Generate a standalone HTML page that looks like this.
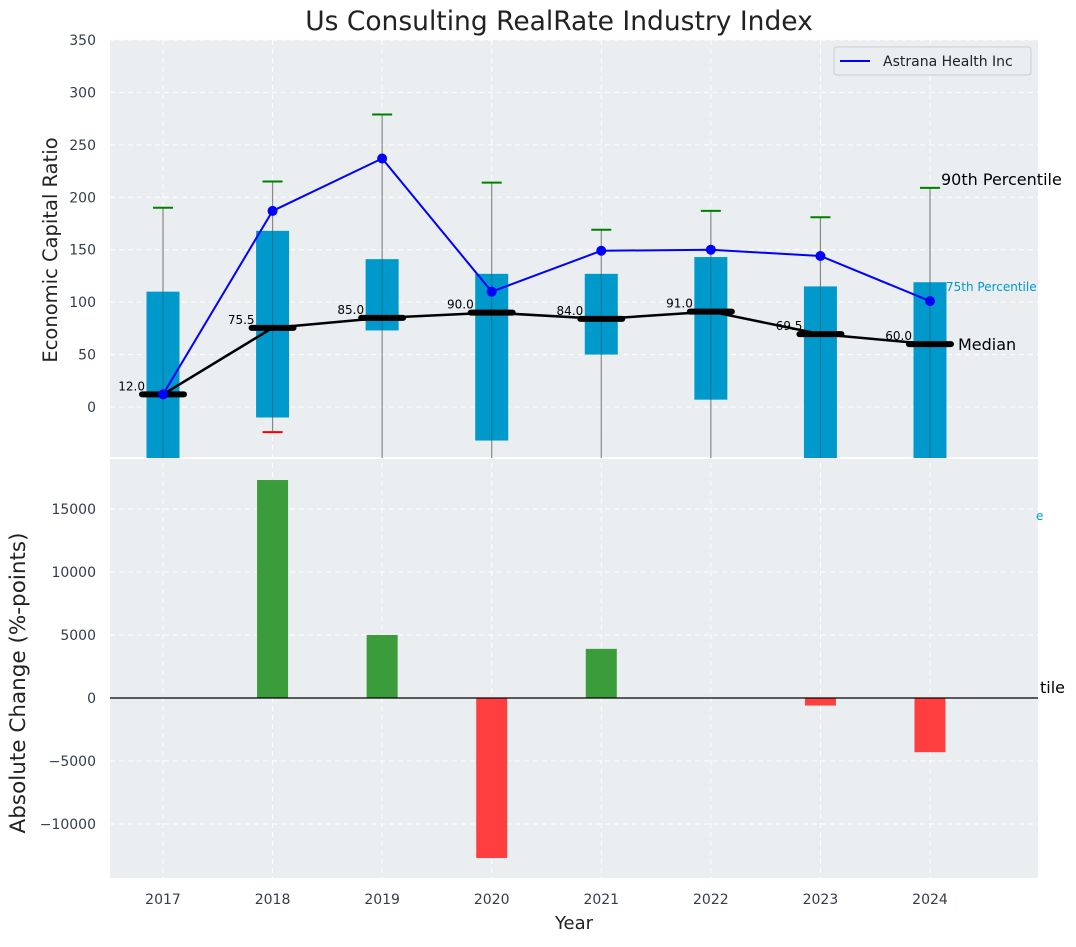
<!DOCTYPE html>
<html><head><meta charset="utf-8"><style>
body{margin:0;background:#fff;font-family:"Liberation Sans","DejaVu Sans",sans-serif}
svg text{font-family:"DejaVu Sans","Liberation Sans",sans-serif}
</style></head><body>
<svg id="c" width="1076" height="942" xmlns="http://www.w3.org/2000/svg"></svg>
<script>
const years=[2017,2018,2019,2020,2021,2022,2023,2024];
const q25=[-60,-10,73,-32,50,7,-60,-60];
const q75=[110,168,141,127,127,143,115,119];
const p90=[190,215,279,214,169,187,181,209];
const p10=[-60,-24,-60,-60,-60,-60,-60,-60];
const medians=[12,75.5,85,90,84,91,69.5,60];
const astrana=[12,187,237,110,149,150,144,101];
const changes=[0,17300,5000,-12700,3900,0,-600,-4300];
const topTicks=[0,50,100,150,200,250,300,350];
const botTicks=[-10000,-5000,0,5000,10000,15000];
const NS="http://www.w3.org/2000/svg";
const svg=document.getElementById('c');
function mk(t,a,txt){const e=document.createElementNS(NS,t);for(const k in a)e.setAttribute(k,a[k]);if(txt!==undefined)e.textContent=txt;svg.appendChild(e);return e;}
const X=y=>163+(y-2017)*109.57;
const L=110,R=1038,T1=40,B1=458,T2=458,B2=878;
const Y1=v=>407-v*(367/350);
const Y2=v=>698-v*(189/15000);
let e;
e=mk('rect',{x:L,y:T1,width:R-L,height:B1-T1,fill:'#eaeef0'});

e=mk('rect',{x:L,y:T2,width:R-L,height:B2-T2,fill:'#eaeef0'});

mk('line',{x1:L,x2:R,y1:458,y2:458,stroke:'#fff','stroke-width':2});
years.forEach(y=>{mk('line',{x1:X(y),x2:X(y),y1:T1,y2:B2,stroke:'#fff','stroke-dasharray':'5,4','stroke-width':1});});
topTicks.forEach(v=>{mk('line',{x1:L,x2:R,y1:Y1(v),y2:Y1(v),stroke:'#fff','stroke-dasharray':'5,4'});
 e=mk('text',{x:96,y:Y1(v)+5,'text-anchor':'end','font-size':14,fill:'#333d4d'},v);});
botTicks.forEach(v=>{mk('line',{x1:L,x2:R,y1:Y2(v),y2:Y2(v),stroke:'#fff','stroke-dasharray':'5,4'});
 e=mk('text',{x:96,y:Y2(v)+5,'text-anchor':'end','font-size':14,fill:'#333d4d'},v<0?'\u2212'+(-v):v);});
const cl=v=>Math.min(B1,Math.max(T1,Y1(v)));
years.forEach((y,i)=>{
 const x=X(y);
 e=mk('line',{x1:x,x2:x,y1:Y1(p90[i]),y2:cl(p10[i]),stroke:'#888','stroke-width':1.2});
 
 e=mk('rect',{x:x-16.5,y:Y1(q75[i]),width:33,height:cl(q25[i])-Y1(q75[i]),fill:'#0099cc'});
 
 mk('line',{x1:x,x2:x,y1:Y1(q75[i]),y2:cl(q25[i]),stroke:'#335566','stroke-width':1,opacity:0.6});
 e=mk('line',{x1:x-10,x2:x+10,y1:Y1(p90[i]),y2:Y1(p90[i]),stroke:'green','stroke-width':2});
 
 if(Y1(p10[i])<B1){e=mk('line',{x1:x-10,x2:x+10,y1:Y1(p10[i]),y2:Y1(p10[i]),stroke:'red','stroke-width':2});
 }
});
e=mk('polyline',{points:years.map((y,i)=>X(y)+','+Y1(medians[i])).join(' '),fill:'none',stroke:'#000','stroke-width':2.5});

years.forEach((y,i)=>{const x=X(y);
 e=mk('line',{x1:x-21,x2:x+21,y1:Y1(medians[i]),y2:Y1(medians[i]),stroke:'#000','stroke-width':6,'stroke-linecap':'round'});
 
 e=mk('text',{x:x-18,y:Y1(medians[i])-4,'text-anchor':'end','font-size':12,fill:'#000'},medians[i].toFixed(1));
 
});
e=mk('polyline',{points:years.map((y,i)=>X(y)+','+Y1(astrana[i])).join(' '),fill:'none',stroke:'blue','stroke-width':2});

years.forEach((y,i)=>{e=mk('circle',{cx:X(y),cy:Y1(astrana[i]),r:5,fill:'blue'});
 });
e=mk('text',{x:941,y:185,'font-size':16,fill:'#000'},'90th Percentile');
e=mk('text',{x:946,y:291,'font-size':12,fill:'#0099cc'},'75th Percentile');
e=mk('text',{x:958,y:350,'font-size':16,fill:'#000'},'Median');
e=mk('text',{x:1036,y:520,'font-size':12,fill:'#0099cc'},'e');
e=mk('text',{x:1040,y:693,'font-size':16,fill:'#000'},'tile');
years.forEach((y,i)=>{const v=changes[i];if(v===0)return;
 e=mk('rect',{x:X(y)-15.5,y:Math.min(Y2(v),Y2(0)),width:31,height:Math.abs(Y2(v)-Y2(0)),fill:v>0?'#3a9c3a':'#ff3f3f'});
 });
mk('line',{x1:L,x2:R,y1:Y2(0),y2:Y2(0),stroke:'#000','stroke-width':1.2});
years.forEach(y=>{e=mk('text',{x:X(y),y:904,'text-anchor':'middle','font-size':14,fill:'#333d4d'},y);});
e=mk('rect',{x:834,y:47,width:197,height:28,fill:'#eaeef0',stroke:'#ccc',rx:3});
mk('line',{x1:840,x2:870,y1:61,y2:61,stroke:'blue','stroke-width':2});
e=mk('text',{x:883,y:66,'font-size':14,fill:'#222'},'Astrana Health Inc');
e=mk('text',{x:559,y:30,'text-anchor':'middle','font-size':26.5,fill:'#222'},'Us Consulting RealRate Industry Index');
e=mk('text',{x:574,y:929,'text-anchor':'middle','font-size':18,fill:'#222'},'Year');
e=mk('text',{x:0,y:0,'text-anchor':'middle','font-size':19.5,fill:'#222',transform:'translate(57,250) rotate(-90)'},'Economic Capital Ratio');
e=mk('text',{x:0,y:0,'text-anchor':'middle','font-size':21.5,fill:'#222',transform:'translate(25,683) rotate(-90)'},'Absolute Change (%-points)');
</script>
</body></html>
